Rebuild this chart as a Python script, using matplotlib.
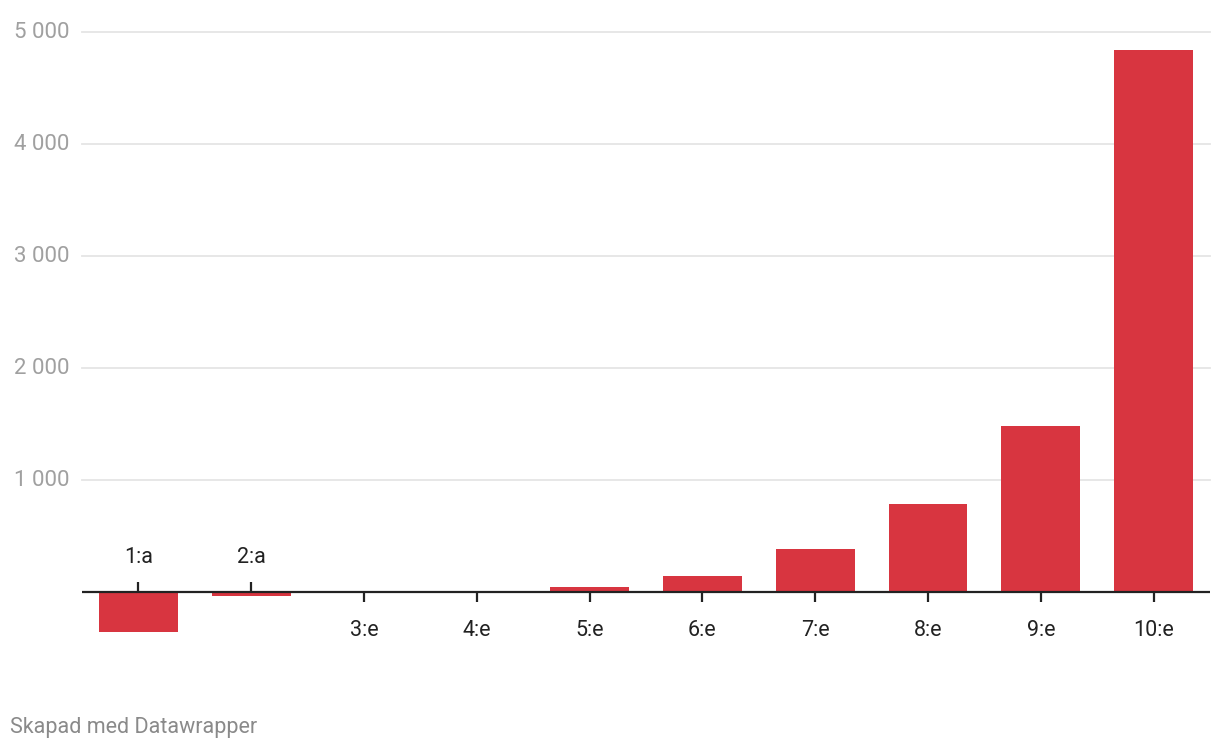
import matplotlib
matplotlib.use("Agg")
import matplotlib.pyplot as plt
import numpy as np

categories = ["1:a", "2:a", "3:e", "4:e", "5:e", "6:e", "7:e", "8:e", "9:e", "10:e"]
values = [-354, -36, 1, 2, 42, 146, 387, 789, 1485, 4837]
yticks = [1000, 2000, 3000, 4000, 5000]
ytick_labels = ["1 000", "2 000", "3 000", "4 000", "5 000"]

plt.rcParams['font.family'] = ['Roboto', 'DejaVu Sans']

fig = plt.figure(figsize=(12.2, 7.52), dpi=100)
ax = fig.add_axes([82/1220, (752-648)/752, (1210-82)/1220, (648-32)/752])
ax.set_xlim(-0.5, len(categories) - 0.5)
ax.set_ylim(-500, 5000)
ax.axis('off')

x = np.arange(len(categories))
for t, lab in zip(yticks, ytick_labels):
    ax.axhline(t, color='#e5e5e5', lw=1.3, zorder=0, clip_on=False)
    ax.annotate(lab, xy=(0, t), xycoords=('axes fraction', 'data'),
                xytext=(-9, 0), textcoords='offset points', ha='right', va='center',
                fontsize=16, color='#a0a0a0')

ax.bar(x, values, width=0.7, color='#d83540', zorder=2)
ax.axhline(0, color='#222222', lw=1.6, zorder=3)

for i, (c, v) in enumerate(zip(categories, values)):
    if v < 0:
        ax.plot([i], [0], marker=[(0, 0), (0, 1)], markersize=14, mew=1.6, color='#222222', zorder=3)
        ax.annotate(c, xy=(i, 0), xytext=(0, 25), textcoords='offset points',
                    ha='center', va='center', fontsize=15.5, color='#222222')
    else:
        ax.plot([i], [0], marker=[(0, 0), (0, -1)], markersize=14, mew=1.6, color='#222222', zorder=3)
        ax.annotate(c, xy=(i, 0), xytext=(0, -28), textcoords='offset points',
                    ha='center', va='center', fontsize=15.5, color='#222222')

fig.text(10/1220, 1 - 728/752, "Skapad med Datawrapper", ha='left', va='center',
         fontsize=15.5, color='#8a8a8a')

fig.savefig("out.png", dpi=100)
